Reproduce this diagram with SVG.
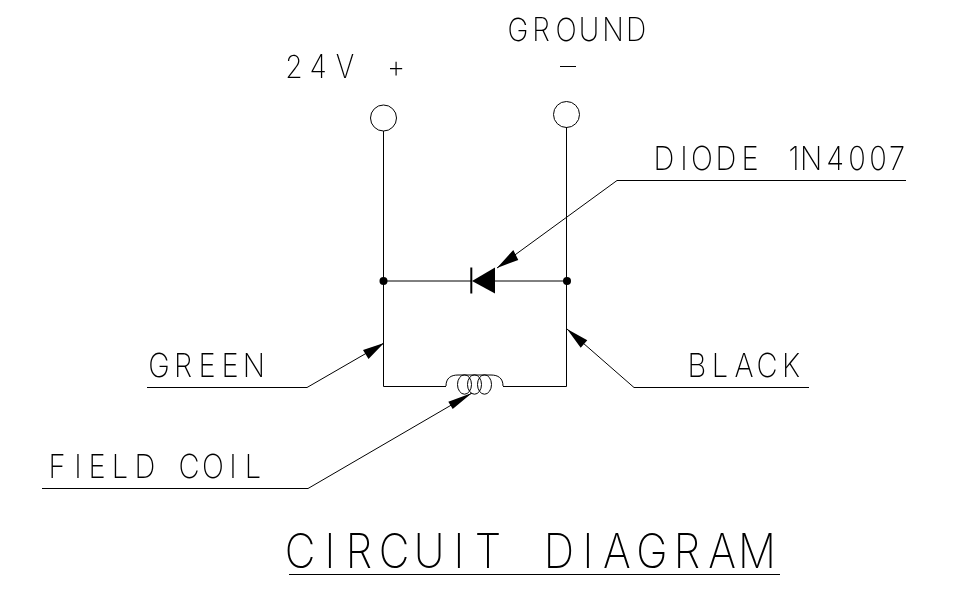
<svg xmlns="http://www.w3.org/2000/svg" width="980" height="592" viewBox="0 0 980 592">
<defs><filter id="gray" x="0" y="0" width="1" height="1" color-interpolation-filters="sRGB"><feOffset dx="0" dy="0"/></filter></defs>
<style>
.w{fill:none;stroke:#000;stroke-width:1}
.l{fill:none;stroke:#000;stroke-width:1}
.s{font-family:"Inter","Roboto","Liberation Sans",sans-serif;font-weight:150;fill:#000;text-anchor:middle}
.a{fill:#000;stroke:none}
</style>
<rect width="980" height="592" fill="#fff"/>
<g id="connectors">
<path class="w" d="M383.500 131V386.500H446M503 386.500H566.500V127"/>
<path class="w" d="M383.500 281H472M495 281H566.500"/>
<path class="l" d="M906 180.500H617L497 268"/>
<path class="l" d="M147 387.500H307L384 343"/>
<path class="l" d="M809 387.500H634L567 329"/>
<path class="l" d="M42 488.500H308L472 393"/>
<path class="a" d="M497 268L513.300 250L518.300 260ZM384 343L363 350L368.500 359ZM567 329L580.700 347.700L587.300 340.300ZM472 393L448.300 401.700L452.700 409Z"/>
</g>
<g id="term-24v"><circle class="w" cx="383.500" cy="118" r="13"/><g filter="url(#gray)"><text class="s" font-size="32" transform="scale(.88 1)" x="334.100 361.400 392 450" y="78">24V+</text></g></g>
<g id="term-ground"><circle class="w" cx="566.500" cy="114.500" r="13"/><g filter="url(#gray)"><text class="s" font-size="32" transform="scale(.88 1)" x="588.600 614.800 643.200 669.300 696.600 722.700" y="41">GROUND</text></g><path class="l" d="M560 66.500H576"/></g>
<g id="diode"><path class="a" d="M472 281L495 267.500V293.500Z"/><path d="M471.300 267.500V293.500" fill="none" stroke="#000" stroke-width="2"/><circle class="a" cx="383.500" cy="281" r="4"/><circle class="a" cx="567" cy="281" r="4"/><g filter="url(#gray)"><text class="s" font-size="33" transform="scale(.88 1)" x="754.500 777.300 797.700 825 852.300 902.300 921.600 948.900 973.900 997.700 1019.300" y="170">DIODE1N4007</text></g></g>
<g id="coil"><path class="w" d="M446 386C446 378 451 375 458 375H491C498 375 503 378 503 386"/><ellipse class="l" cx="464.500" cy="384.500" rx="7" ry="9.700"/><ellipse class="l" cx="474.500" cy="384.500" rx="7" ry="9.700"/><ellipse class="l" cx="484.500" cy="384.500" rx="7" ry="9.700"/></g>
<g id="labels" filter="url(#gray)">
<text class="s" font-size="33" transform="scale(.88 1)" x="180.700 208 235.200 261.400 288.600" y="377">GREEN</text>
<text class="s" font-size="33" transform="scale(.88 1)" x="792 818.200 845.500 871.600 898.900" y="377">BLACK</text>
<text class="s" font-size="33" transform="scale(.88 1)" x="64.800 88.600 110.200 136.400 164.800 214.800 242 264.800 287.500" y="478">FIELDCOIL</text>
</g>
<g id="title"><g filter="url(#gray)"><text class="s" font-size="48" transform="scale(.88 1)" x="340.900 375 408 447.700 487.500 521.600 554.500 635.200 668.200 701.100 740.900 780.700 820.500 860.200" y="568">CIRCUITDIAGRAM</text></g><path class="l" d="M289 574.500H780"/></g>
</svg>
